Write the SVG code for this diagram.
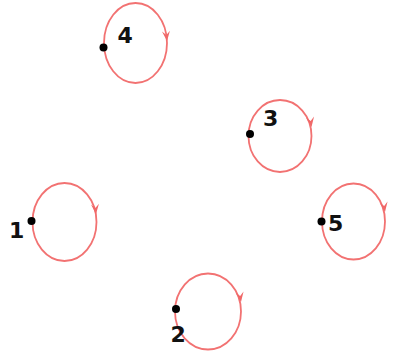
<svg xmlns="http://www.w3.org/2000/svg" xmlns:xlink="http://www.w3.org/1999/xlink" width="395" height="352" viewBox="0 0 395 352">
<style>
.loop{fill:none;stroke:#f27272;stroke-width:1.8}
.ah{fill:#f06868}
.dot{fill:#000}
.lbl{font-family:"DejaVu Sans","Liberation Sans",sans-serif;font-weight:bold;font-size:22px;fill:#111}
</style>
<defs>
<path id="ah" d="M-4,-10 L0,0 L4,-10 L0,-6 z"/>
</defs>
<rect width="395" height="352" fill="#fff"/>
<g id="connectors">
<ellipse class="loop" cx="135.5" cy="43" rx="31.5" ry="40"/>
<ellipse class="loop" cx="280" cy="136" rx="31.5" ry="36"/>
<ellipse class="loop" cx="64.5" cy="222" rx="32" ry="39"/>
<ellipse class="loop" cx="353.5" cy="221.5" rx="31.5" ry="38"/>
<ellipse class="loop" cx="208" cy="311.5" rx="33" ry="38"/>
<use xlink:href="#ah" class="ah" transform="translate(167,41) rotate(-6)"/>
<use xlink:href="#ah" class="ah" transform="translate(311.5,127) rotate(-8)"/>
<use xlink:href="#ah" class="ah" transform="translate(96,214) rotate(-6)"/>
<use xlink:href="#ah" class="ah" transform="translate(385,212) rotate(-8)"/>
<use xlink:href="#ah" class="ah" transform="translate(241,302) rotate(-8)"/>
</g>
<g id="node4"><circle class="dot" cx="103.5" cy="47.5" r="4"/><text class="lbl" x="117.5" y="43">4</text></g>
<g id="node3"><circle class="dot" cx="250" cy="134" r="4"/><text class="lbl" x="263" y="125.5">3</text></g>
<g id="node1"><circle class="dot" cx="31.5" cy="221" r="4"/><text class="lbl" x="9" y="238">1</text></g>
<g id="node5"><circle class="dot" cx="321.5" cy="221.5" r="4"/><text class="lbl" x="328" y="230.5">5</text></g>
<g id="node2"><circle class="dot" cx="176" cy="309" r="4"/><text class="lbl" x="170.5" y="342">2</text></g>
</svg>
